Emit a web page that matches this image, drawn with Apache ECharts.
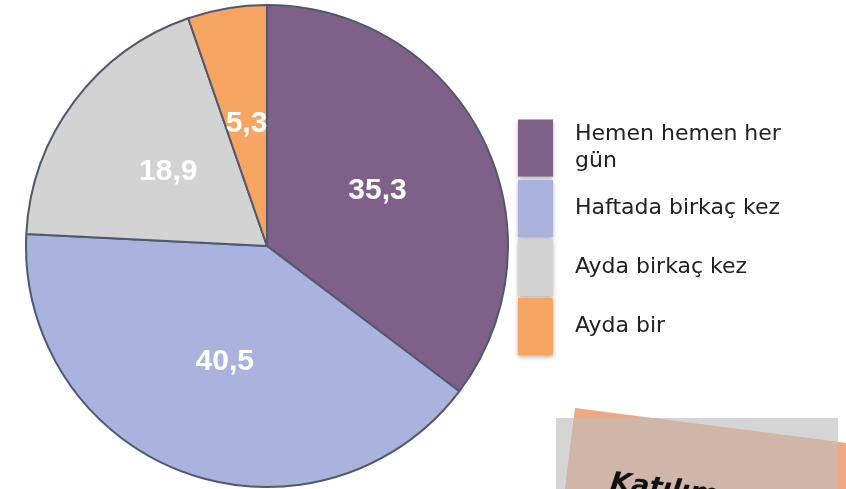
<!DOCTYPE html>
<html>
<head>
<meta charset="utf-8">
<script src="https://cdn.jsdelivr.net/npm/echarts@6/dist/echarts.min.js"></script>
<style>
  html, body { margin: 0; padding: 0; background: #fff; }
  #main { width: 846px; height: 489px; }
</style>
</head>
<body>
<div id="main"></div>
<script>
var chartDom = document.getElementById('main');
var myChart = echarts.init(chartDom);

// categories and values
var categories = ['Hemen hemen her\ngün', 'Haftada birkaç kez', 'Ayda birkaç kez', 'Ayda bir'];
var values = [35.3, 40.5, 18.9, 5.3];
var colors = ['#7f6088', '#aab3de', '#d3d3d3', '#f6a563'];

var pieData = categories.map(function (c, i) {
    return { name: c, value: values[i], itemStyle: { color: colors[i] } };
});

var option = {
    animation: false,
    legend: {
        orient: 'vertical',
        left: 518,
        top: 118,
        padding: 0,
        itemWidth: 35,
        itemHeight: 57,
        itemGap: 2,
        icon: 'rect',
        itemStyle: { borderWidth: 0, shadowBlur: 4, shadowColor: 'rgba(0,0,0,0.3)', shadowOffsetY: 2 },
        textStyle: {
            fontFamily: 'DejaVu Sans',
            fontSize: 22,
            color: '#222',
            padding: [6, 0, 0, 17],
            lineHeight: 27
        },
        data: categories
    },
    graphic: [
        {
            type: 'rect',
            shape: { x: 556, y: 418, width: 282, height: 80 },
            style: { fill: '#d5d5d5' }
        },
        {
            type: 'polygon',
            shape: { points: [[575, 408], [900, 450], [890, 530], [564, 500]] },
            style: { fill: '#f0a880' }
        },
        {
            type: 'polygon',
            shape: { points: [[573.8, 418], [652.5, 418], [838, 442], [838, 489], [565, 489]] },
            style: { fill: '#d0b6a8' }
        },
        {
            type: 'text',
            x: 612,
            y: 470,
            rotation: -0.12,
            style: {
                text: 'Katılımcı',
                fill: '#111',
                font: 'italic bold 27px "DejaVu Sans"'
            }
        }
    ],
    series: [
        {
            name: 'radar',
            type: 'pie',
            center: [267, 246],
            radius: 241,
            startAngle: 90,
            clockwise: true,
            label: {
                position: 'inside',
                formatter: function (p) { return String(p.value).replace('.', ','); },
                color: '#fff',
                fontFamily: 'Liberation Sans',
                fontWeight: 'bold',
                fontSize: 30
            },
            labelLine: { show: false },
            itemStyle: {
                borderColor: '#4f596e',
                borderWidth: 2
            },
            emphasis: { disabled: true },
            data: pieData
        }
    ]
};

myChart.setOption(option);
</script>
</body>
</html>
